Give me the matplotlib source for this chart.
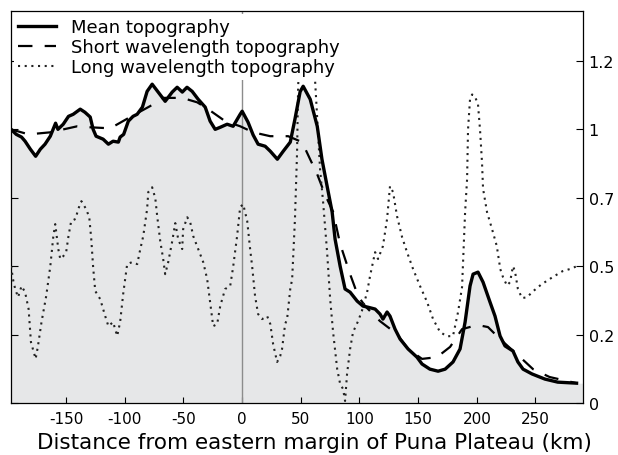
import numpy as np
import matplotlib
matplotlib.use("Agg")
import matplotlib.pyplot as plt

plt.rcParams['font.family'] = ['DejaVu Sans']
plt.rcParams['axes.unicode_minus'] = False

# Mean topography (distance km, value)
mean_km = [-197, -192.5, -188, -185, -180.5, -176, -172, -168, -163.5, -159,
           -157, -152.5, -148, -144, -138, -134, -129.5, -127, -124.5, -118.5,
           -114, -110, -105.5, -104, -101, -97, -93, -89.5, -85, -81,
           -76.7, -71.6, -65.6, -59.6, -55.4, -51, -47, -42.6, -37.5, -31.5,
           -27.3, -23, -18.7, -12.8, -7.7, -1.7, 0, 5, 9.4, 13.6,
           19.6, 24, 30, 35, 41, 45, 49.4, 52, 58, 64,
           68, 72.4, 76.7, 79.2, 83.5, 87.7, 92, 98, 103, 107.3,
           113.3, 117.5, 120, 123.5, 126, 130.3, 134.6, 141.4, 149, 153.3,
           160, 167, 173, 179.7, 185.7, 190, 194.2, 196.8, 201, 205.3,
           211.2, 215.5, 219.8, 224, 230.8, 235, 239.4, 247, 258, 269, 285]
mean_val = [1.0, 0.978, 0.966, 0.948, 0.913, 0.882, 0.913, 0.935, 0.97, 1.018,
            1.0, 1.015, 1.038, 1.044, 1.059, 1.05, 1.036, 1.0, 0.97, 0.957,
            0.935, 0.948, 0.944, 0.966, 0.978, 1.024, 1.038, 1.044, 1.065, 1.111,
            1.132, 1.109, 1.082, 1.109, 1.123, 1.109, 1.123, 1.111, 1.088, 1.065,
            1.024, 1.0, 1.006, 1.015, 1.009, 1.044, 1.053, 1.021, 0.975, 0.935,
            0.926, 0.904, 0.869, 0.904, 0.944, 1.03, 1.11, 1.126, 1.088, 1.009,
            0.869, 0.751, 0.658, 0.579, 0.5, 0.40, 0.386, 0.347, 0.325, 0.32,
            0.312, 0.29, 0.268, 0.299, 0.281, 0.224, 0.187, 0.158, 0.134, 0.114,
            0.099, 0.093, 0.099, 0.12, 0.158, 0.255, 0.413, 0.465, 0.474, 0.43,
            0.343, 0.281, 0.196, 0.167, 0.152, 0.12, 0.099, 0.085, 0.07, 0.061, 0.058]

# Short wavelength topography
short_km = [-197, -182, -163.5, -140.5, -129.5, -112.4, -95.4, -78.4, -67.3, -51.1,
            -38.3, -29, -14.5, -1.7, 9.4, 23.9, 39.2, 51.1, 57.9, 63.9,
            70.7, 77.5, 83.5, 92, 98.8, 104.8, 117.5, 132, 141.4, 153.3,
            166, 177.2, 187.4, 196.8, 202.7, 209.5, 219.8, 238.5, 247.9, 262, 285]
short_val = [1.0, 0.978, 0.987, 1.009, 1.006, 1.003, 1.036, 1.068, 1.092, 1.092,
             1.079, 1.059, 1.024, 1.009, 0.987, 0.97, 0.97, 0.944, 0.869, 0.804,
             0.713, 0.659, 0.565, 0.465, 0.369, 0.325, 0.259, 0.202, 0.158, 0.129,
             0.134, 0.164, 0.224, 0.237, 0.24, 0.233, 0.187, 0.129, 0.099, 0.076, 0.058]

# Long wavelength topography
long_km = [-197, -195, -193.4, -191, -188, -185, -182, -180, -176, -174,
           -171, -167, -163.5, -161, -159.3, -156.7, -155, -152.5, -150, -148,
           -145.7, -142, -139.7, -137, -133, -130.3, -128.6, -127, -125.2, -121,
           -116.7, -114, -110, -106.5, -104, -101.4, -98, -93.7, -89.4, -87,
           -84.3, -81, -80, -76.7, -74, -72.4, -69.8, -67.3, -65.6, -63,
           -59.6, -57, -54.5, -51.1, -50.3, -46.8, -44.3, -41.7, -37.5, -33.2,
           -29.8, -27.3, -24.7, -21.3, -18.7, -14.5, -10.2, -7.7, -4.3, -1.7,
           0.9, 4.3, 6.8, 8.5, 11, 13.6, 17, 21.3, 24, 26.4,
           29.8, 32.4, 34, 36.6, 38.3, 41, 42.6, 45, 46.8, 47.7,
           49.4, 52.8, 56.2, 60.5, 62.2, 64, 66.4, 69, 72.4, 75,
           77.5, 81, 83.5, 86, 87.7, 89.4, 92, 94.5, 98.8, 102,
           106.5, 109, 113.3, 115.8, 120, 123.5, 126, 128.6, 132, 136.3,
           140.5, 145.7, 151.6, 157.6, 162.7, 168.7, 174.6, 179.7, 184, 187.4,
           190, 191.7, 192.5, 194.2, 196, 198.4, 201, 202.7, 204.4, 205.3,
           208.7, 213, 217, 220, 222.3, 225.7, 228.3, 230.8, 232.5, 235,
           238.5, 243, 247, 255, 264, 273, 281, 285]
long_val = [0.50, 0.435, 0.40, 0.364, 0.413, 0.386, 0.312, 0.178, 0.129, 0.167,
            0.255, 0.369, 0.50, 0.585, 0.623, 0.55, 0.521, 0.529, 0.541, 0.588,
            0.632, 0.638, 0.667, 0.69, 0.667, 0.643, 0.579, 0.496, 0.391, 0.356,
            0.281, 0.237, 0.255, 0.196, 0.255, 0.378, 0.506, 0.512, 0.506, 0.547,
            0.588, 0.667, 0.725, 0.746, 0.698, 0.646, 0.573, 0.521, 0.465, 0.512,
            0.573, 0.626, 0.579, 0.55, 0.608, 0.643, 0.629, 0.588, 0.55, 0.512,
            0.443, 0.343, 0.237, 0.246, 0.325, 0.40, 0.413, 0.496, 0.588, 0.673,
            0.681, 0.632, 0.55, 0.50, 0.369, 0.29, 0.268, 0.281, 0.246, 0.172,
            0.12, 0.137, 0.158, 0.246, 0.268, 0.40, 0.443, 0.638, 0.90, 1.126,
            1.235, 1.278, 1.263, 1.205, 1.14, 1.03, 0.825, 0.687, 0.541, 0.356,
            0.211, 0.099, 0.056, 0.041, 0.006, 0.085, 0.158, 0.211, 0.259, 0.303,
            0.386, 0.457, 0.541, 0.521, 0.559, 0.638, 0.751, 0.725, 0.646, 0.585,
            0.541, 0.487, 0.413, 0.343, 0.268, 0.211, 0.195, 0.196, 0.299, 0.408,
            0.658, 0.782, 1.0, 1.088, 1.102, 1.096, 1.073, 1.0, 0.856, 0.74,
            0.658, 0.608, 0.559, 0.487, 0.452, 0.415, 0.43, 0.5, 0.478, 0.40,
            0.36, 0.364, 0.386, 0.42, 0.45, 0.478, 0.49, 0.50]

# uneven tick labels on the right axis, evenly spaced on the page
ytick_vals = [0, 0.2, 0.5, 0.7, 1, 1.2]
ytick_labels = ['0', '0.2', '0.5', '0.7', '1', '1.2']
xticks = [-150, -100, -50, 0, 50, 100, 150, 200, 250]

scale_vals = [-1.0] + ytick_vals + [2.2]
scale_pos = [-5, 0, 1, 2, 3, 4, 5, 10]


def fwd(v):
    return np.interp(v, scale_vals, scale_pos)


def inv(p):
    return np.interp(p, scale_pos, scale_vals)


fig = plt.figure(figsize=(6.18, 4.56), dpi=100)
ax = fig.add_axes([0.0178, 0.114, 0.9256, 0.8597])
ax.set_yscale('function', functions=(fwd, inv))

xlo, xhi = -197, 290.5

ax.fill_between(np.append(mean_km, xhi), 0, np.append(mean_val, mean_val[-1]),
                color='#e6e7e8', lw=0, zorder=1)
ax.axvline(0, color='#8c8c8c', lw=1.0, zorder=2)

ax.plot(mean_km, mean_val, color='black', lw=2.4, solid_joinstyle='round',
        label='Mean topography', zorder=4)
ax.plot(short_km, short_val, color='black', lw=1.6, dashes=(6.5, 5.5),
        label='Short wavelength topography', zorder=3)
ax.plot(long_km, long_val, color='#222222', lw=1.5, linestyle=(0, (1, 2.2)),
        label='Long wavelength topography', zorder=3)

ax.set_xlim(xlo, xhi)
ax.set_ylim(0, inv(5.73))
ax.set_xticks(xticks)
ax.set_yticks(ytick_vals, labels=ytick_labels)
ax.yaxis.set_minor_locator(matplotlib.ticker.NullLocator())

ax.tick_params(axis='x', direction='in', length=4, width=0.8, pad=6, labelsize=11)
ax.tick_params(axis='y', direction='in', length=5, width=0.8, pad=4, labelsize=11.5,
               left=True, right=True, labelleft=False, labelright=True)
for s in ax.spines.values():
    s.set_linewidth(0.9)

ax.set_xlabel('Distance from eastern margin of Puna Plateau (km)', fontsize=15.5)
ax.xaxis.set_label_coords(0.53, -0.075)

leg = ax.legend(loc='upper left', bbox_to_anchor=(0.0, 1.0), fontsize=13,
                frameon=True, facecolor='white', edgecolor='none', framealpha=1,
                handlelength=2.1, handletextpad=0.85, labelspacing=0.1,
                borderpad=0.25, borderaxespad=0.15)
leg.set_zorder(5)

fig.savefig('out.png', dpi=100)
